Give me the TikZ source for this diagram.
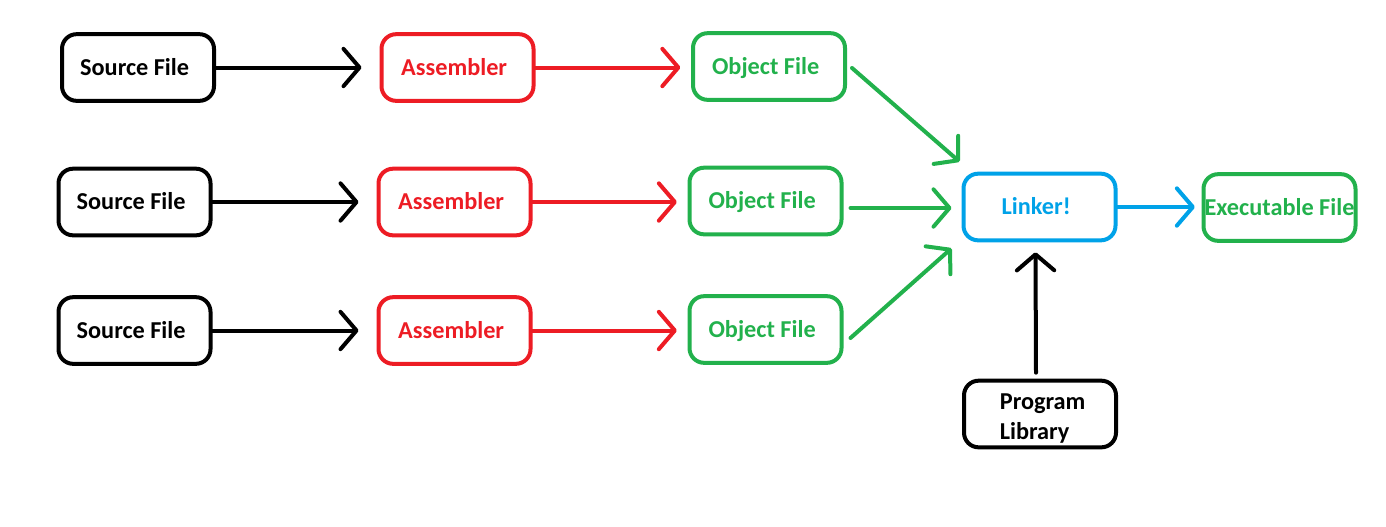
\documentclass[tikz,border=0pt]{standalone}
\usepackage{fontspec}
\setmainfont{Carlito}
\usetikzlibrary{arrows.meta,calc}
\definecolor{pred}{HTML}{ED1C24}
\definecolor{pgreen}{HTML}{22B14C}
\definecolor{pblue}{HTML}{00A2E8}
\begin{document}
\begin{tikzpicture}[x=0.75pt,y=-0.75pt,
  box/.style={draw, line width=3pt, rounded corners=11pt, minimum width=114pt, minimum height=50pt,
    font=\fontsize{18.2}{22.5}\selectfont\bfseries, inner sep=2pt},
  tbox/.style={box, text height=11.6pt, text depth=0pt},
  lshift/.style={execute at begin node=\hspace*{-5pt}},
  arr/.style={line width=3pt, line cap=round, -{Straight Barb[length=12pt,width=28pt,round]}}
]
\useasboundingbox (0,0) rectangle (1386,526);
% row 1
\node[tbox, lshift] (src1) at (138,67.5) {Source File};
\node[tbox, lshift, pred] (asm1) at (457.5,67.5) {Assembler};
\node[tbox, lshift, pgreen] (obj1) at (769,66.5) {Object File};
% row 2
\node[tbox, lshift] (src2) at (134.5,202) {Source File};
\node[tbox, lshift, pred] (asm2) at (454.5,202) {Assembler};
\node[tbox, lshift, pgreen] (obj2) at (765.5,201) {Object File};
% row 3
\node[tbox, lshift] (src3) at (134.5,330.5) {Source File};
\node[tbox, lshift, pred] (asm3) at (454.5,330.5) {Assembler};
\node[tbox, lshift, pgreen] (obj3) at (765.5,329.5) {Object File};
% linker etc
\node[tbox, lshift, pblue] (linker) at (1039.5,207) {Linker!};
\node[tbox, pgreen, inner sep=0pt] (exe) at (1279.5,207.5) {Executable File};
\node[box, align=left] (lib) at (1040,414) {\rule{0pt}{18pt}\hspace*{4pt}Program\\\hspace*{4pt}Library};
% arrows
\draw[arr, shorten >=13.5pt] (src1.east) -- (asm1.west);
\draw[arr, pred, shorten >=8pt] (asm1.east) -- (obj1.west |- asm1.east);
\draw[arr, shorten >=13.5pt] (src2.east) -- (asm2.west);
\draw[arr, pred, shorten >=8pt] (asm2.east) -- (obj2.west |- asm2.east);
\draw[arr, shorten >=13.5pt] (src3.east) -- (asm3.west);
\draw[arr, pred, shorten >=8pt] (asm3.east) -- (obj3.west |- asm3.east);
\draw[arr, pgreen] ($(obj1.east)+(5,1.5)$) -- ($(linker.north west)+(-2,-10)$);
\draw[arr, pgreen] ($(obj2.east)+(7,7)$) -- ($(linker.west)+(-10,1)$);
\draw[arr, pgreen] ($(obj3.east)+(7,8.5)$) -- ($(linker.south west)+(-10,6)$);
\draw[arr, pblue, shorten >=5pt] (linker.east) -- (exe.west |- linker.east);
\draw[arr] ($(lib.north)+(-4,-6)$) -- ($(linker.south)+(-4,10)$);
\end{tikzpicture}
\end{document}
